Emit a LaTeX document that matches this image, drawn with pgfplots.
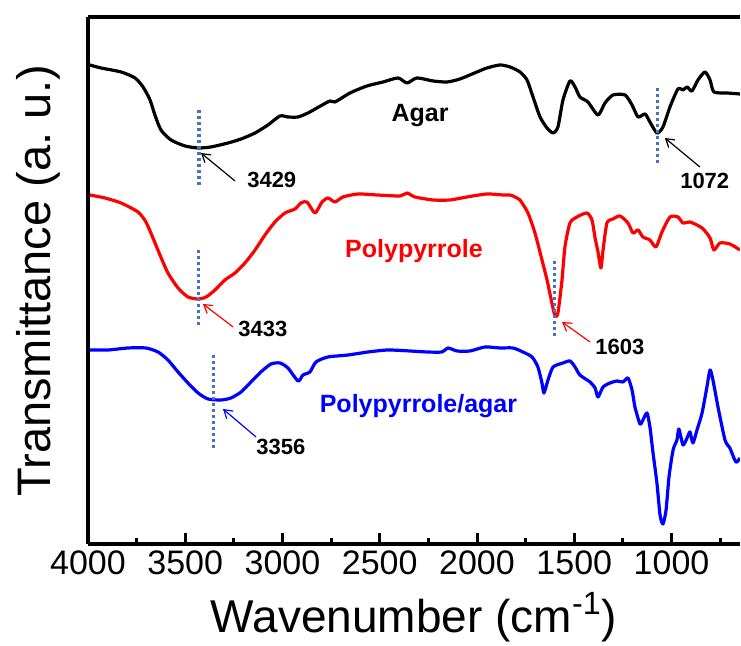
\documentclass[border=0pt]{standalone}
\usepackage{pgfplots}
\pgfplotsset{compat=1.18}
\usepackage{fontspec}
\setmainfont{Liberation Sans}
\usetikzlibrary{arrows.meta}
\definecolor{dotblue}{HTML}{4472C4}
\definecolor{ppyred}{HTML}{FF0000}
\definecolor{ppyblue}{HTML}{0000FF}

\begin{document}
\begin{tikzpicture}
\begin{axis}[
  scale only axis, width=326pt, height=263.5pt,
  x dir=reverse, xmin=648, xmax=4000, ymin=0, ymax=527,
  axis x line*=box, axis y line*=left,
  xtick={1000,1500,...,4000}, minor xtick={750,1250,...,3750},
  ytick=\empty, xtick pos=left, tick align=inside,
  major tick length=5.5pt, minor tick length=3pt,
  every tick/.style={black, line width=1.5pt},
  axis line style={line width=2.2pt},
  ticklabel style={font=\fontsize{17}{17}\selectfont},
  /pgf/number format/assume math mode=true,
  /pgf/number format/1000 sep={},
  xlabel={Wavenumber (cm\textsuperscript{-1})},
  ylabel={Transmittance (a.\ u.)},
  xlabel style={font=\fontsize{23}{23}\selectfont, at={(axis description cs:0.5,-0.168)}, anchor=base},
  ylabel style={font=\fontsize{23.5}{23.5}\selectfont, at={(axis description cs:-0.058,0.5)}, anchor=base},
  spectrum/.style={line width=1.6pt, line join=round, mark=none, smooth, tension=0.4},
  guide/.style={dotblue, line width=1.6pt, dash pattern=on 1.5pt off 1.5pt, line cap=butt, mark=none},
]
% Agar
\addplot[spectrum, black] coordinates {
(3991,479)(3933,476)(3830,472)(3758,466)(3717,457)(3681,444)(3656,429)(3625,414)(3573,404)(3501,398)(3434,396)(3368,397)(3280,401)(3213,405)(3141,411)(3075,419)(3013,428)(2972,427)(2920,427)(2869,431)
(2823,436)(2756,443)(2730,442)(2653,451)(2566,458)(2483,462)(2406,466)(2360,461)(2309,466)(2226,463)(2154,462)(2088,465)(2000,472)(1949,476)(1882,479)(1830,477)(1779,472)
(1743,464)(1712,447)(1676,427)(1640,416)(1609,411)(1584,417)(1558,444)(1522,463)(1496,457)(1471,447)(1430,442)(1378,429)(1342,441)(1301,449)(1239,449)(1203,439)(1172,427)(1136,430)(1111,422)(1075,411)(1044,417)(1008,437)(967,455)(941,454)(920,457)(895,453)(864,464)(828,472)(802,464)(782,452)(715,451)(648,450)
};
% Polypyrrole
\addplot[spectrum, ppyred] coordinates {
(3990,349)(3913,346)(3830,341)(3743,332)(3702,322)(3666,306)(3630,289)(3589,271)(3537,256)(3486,247)(3434,245)(3393,247)(3347,254)(3296,264)(3244,271)(3193,281)(3141,294)(3090,309)(3039,322)(2987,331)(2936,335)(2905,341)(2874,342)(2833,331)(2797,342)(2766,346)(2730,342)(2689,347)(2612,350)(2514,349)(2396,348)(2360,351)(2319,347)(2226,344)(2139,344)(2052,347)(1949,350)(1866,349)(1830,349)(1794,346)(1779,344)(1738,331)(1702,311)(1666,284)(1640,264)(1615,241)(1599,228)(1584,231)(1563,264)(1548,297)(1522,321)(1486,327)(1435,331)(1409,324)(1393,306)(1378,292)(1363,276)(1352,294)(1332,321)(1301,325)(1265,328)(1224,321)(1198,311)(1172,314)(1147,307)(1111,304)(1080,297)(1049,312)(1008,327)(967,327)(941,321)(905,322)(843,316)(802,306)(782,294)(751,301)(700,300)(648,294)
};
% Polypyrrole/agar
\addplot[spectrum, ppyblue] coordinates {
(3990,194)(3897,194)(3794,196)(3702,196)(3640,192)(3589,184)(3537,172)(3486,161)(3434,151)(3383,145)(3316,144)(3265,146)(3213,152)(3162,162)(3111,172)(3059,180)(3013,181)(2972,176)(2920,163)(2895,169)(2859,172)(2828,182)(2766,187)(2663,189)(2560,192)(2458,194)(2345,193)(2257,192)(2180,192)(2149,196)(2103,193)(2036,193)(1959,197)(1882,196)(1815,196)(1764,192)(1717,187)(1687,177)(1666,161)(1656,151)(1635,164)(1609,177)(1558,181)(1522,183)(1496,177)(1471,169)(1419,162)(1393,156)(1378,147)(1352,157)(1316,161)(1280,163)(1250,162)(1224,166)(1203,154)(1188,137)(1162,120)(1147,124)(1126,131)(1111,117)(1095,91)(1075,61)(1059,29)(1044,20)(1028,34)(1013,67)(992,94)(972,104)(962,115)(941,99)(920,106)(905,112)(890,101)(869,114)(843,131)(818,157)(802,174)(787,164)(761,137)(725,104)(700,96)(669,82)(648,86)
};
% peak guide lines
\addplot[guide] coordinates {(3429,359)(3429,436)};
\addplot[guide] coordinates {(1072,381)(1072,458)};
\addplot[guide] coordinates {(3433,219)(3433,296)};
\addplot[guide] coordinates {(1603,208)(1603,286)};
\addplot[guide] coordinates {(3356,96)(3356,191)};
% peak arrows
\draw[black, line width=0.6pt, -{Straight Barb[length=4pt,width=5pt]}] (axis cs:3244,363) -- (axis cs:3419,391);
\draw[black, line width=0.6pt, -{Straight Barb[length=4pt,width=5pt]}] (axis cs:854,377) -- (axis cs:1034,406);
\draw[ppyred, line width=0.6pt, -{Straight Barb[length=4pt,width=5pt]}] (axis cs:3254,217) -- (axis cs:3409,240);
\draw[ppyred, line width=0.6pt, -{Straight Barb[length=4pt,width=5pt]}] (axis cs:1419,202) -- (axis cs:1563,222);
\draw[ppyblue, line width=0.6pt, -{Straight Barb[length=4pt,width=5pt]}] (axis cs:3136,107) -- (axis cs:3306,135);
% peak labels
\begin{scope}[font=\fontsize{11}{11}\selectfont\bfseries, inner sep=0pt]
\node[anchor=base west] at (axis cs:3183,356) {3429};
\node[anchor=base west] at (axis cs:957,355) {1072};
\node[anchor=base west] at (axis cs:3229,207) {3433};
\node[anchor=base west] at (axis cs:1393,189) {1603};
\node[anchor=base west] at (axis cs:3136,89) {3356};
\end{scope}
% sample names
\begin{scope}[font=\fontsize{12.5}{12.5}\selectfont\bfseries, inner sep=0pt]
\node[anchor=base, black] at (axis cs:2293,422) {Agar};
\node[anchor=base, ppyred] at (axis cs:2324,286) {Polypyrrole};
\node[anchor=base, ppyblue] at (axis cs:2301,131) {Polypyrrole/agar};
\end{scope}
\end{axis}
\pgfresetboundingbox
\path (current axis.south west) ++(-44pt,-51pt) rectangle ++(370.5pt,323pt);
\end{tikzpicture}
\end{document}
